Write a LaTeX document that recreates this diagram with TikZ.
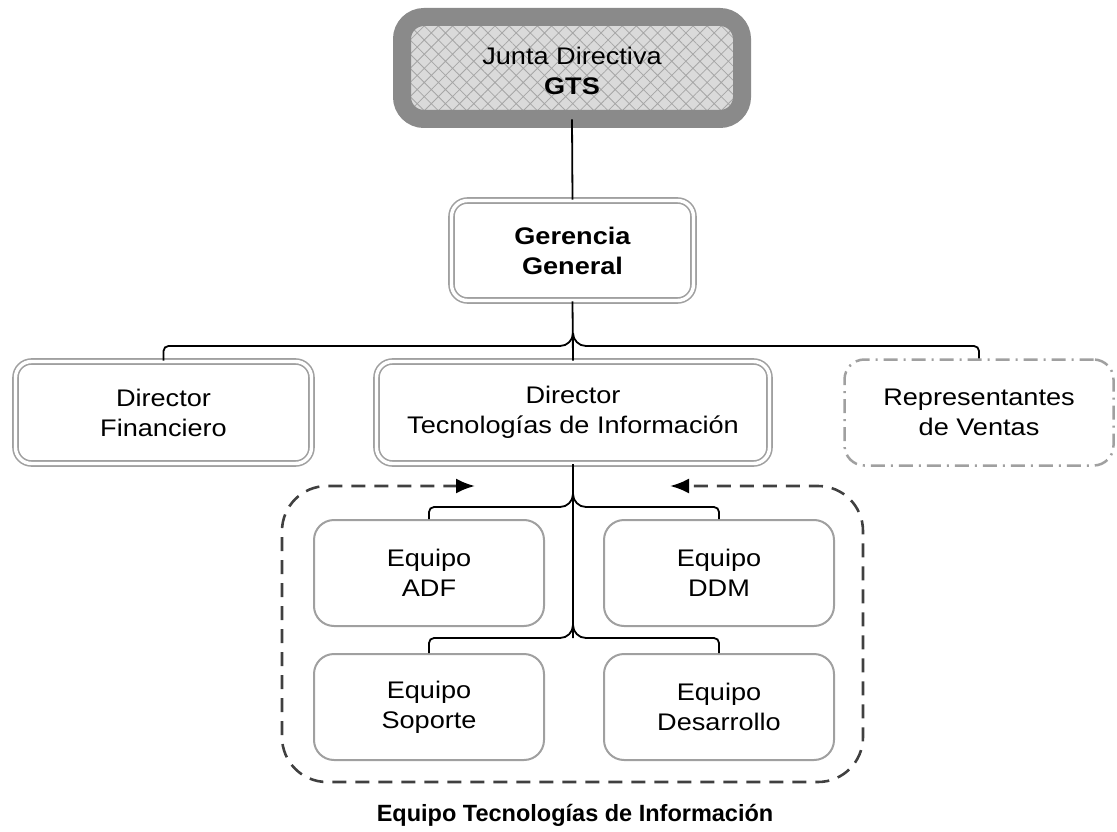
\documentclass[tikz,border=0pt]{standalone}
\usepackage{fontspec}
\setmainfont{Liberation Sans}[FakeStretch=1.13]
\newfontfamily\captionfont{Liberation Sans}
\usetikzlibrary{arrows.meta,patterns.meta,calc}

\definecolor{boardgray}{HTML}{8A8A8A}
\definecolor{hatchbg}{HTML}{DADADA}
\definecolor{hatchline}{HTML}{A6A6A6}
\definecolor{boxgray}{HTML}{A0A0A0}
\definecolor{contgray}{HTML}{404040}

\begin{document}
\begin{tikzpicture}[x=1pt,y=-1pt,
  >={Latex[length=19pt,width=15pt,color=black]},
  every node/.style={font=\fontsize{24}{30}\selectfont, align=center, inner sep=0pt},
  board/.style={rectangle, rounded corners=22pt, draw=boardgray, line width=18pt,
    preaction={fill=hatchbg},
    pattern={Hatch[angle=45,distance=10pt,line width=0.8pt]}, pattern color=hatchline,
    minimum width=340pt, minimum height=102pt},
  dbox/.style={rectangle, rounded corners=16pt, draw=boxgray, double=white,
    line width=1.6pt, double distance=3.4pt, minimum height=102pt},
  repbox/.style={rectangle, rounded corners=20pt, draw=boxgray, line width=2.5pt,
    dash pattern=on 14pt off 6pt on 2pt off 6pt,
    minimum width=269pt, minimum height=106pt},
  eqbox/.style={rectangle, rounded corners=20pt, draw=boxgray, line width=2pt,
    minimum width=230pt, minimum height=106pt},
  conn/.style={line width=1.8pt, black},
  teamframe/.style={line width=2.6pt, contgray, dash pattern=on 14pt off 9pt,
    rounded corners=45pt}
]
\useasboundingbox (0,0) rectangle (1117,832);

% board and management
\node[board] (jd) at (572,68) {};
\node (jdtext) at (572,71) {Junta Directiva\\\textbf{GTS}};
\node[dbox, minimum width=242pt, minimum height=100pt] (gg) at (572.5,250.5)
  {\textbf{Gerencia}\\\textbf{General}};

% directors
\node[dbox, minimum width=296pt] (df) at (163.5,412.5) {Director\\Financiero};
\node[dbox, minimum width=393pt] (dti) at (573,412.5) {Director\\Tecnologías de Información};
\node[repbox] (rv) at (979,412.5) {Representantes\\de Ventas};

% IT teams
\node[eqbox] (adf) at (429,573) {Equipo\\ADF};
\node[eqbox] (ddm) at (719,573) {Equipo\\DDM};
\node[eqbox] (sop) at (429,707) {Equipo\\Soporte};
\node[eqbox] (des) at (719,707) {Equipo\\Desarrollo};

% junction points
\coordinate (t1) at (573,333);
\coordinate (h1) at (0,346);
\coordinate (b1) at (573,493);
\coordinate (h2) at (0,507);
\coordinate (b2) at (573,625);
\coordinate (h3) at (0,638);

% top connectors
\draw[conn] (jd.south) -- (gg.north);
\draw[conn] (gg.south) -- (dti.north);
\draw[conn, rounded corners=13pt] ($(t1 |- h1)+(-16,0)$) -- (t1 |- h1) -- (t1) -- (t1 |- h1) -- ++(16,0);
\draw[conn, rounded corners=5pt] ($(t1 |- h1)+(-15,0)$) -- (df.north |- h1) -- (df.north);
\draw[conn, rounded corners=5pt] ($(t1 |- h1)+(15,0)$) -- (rv.north |- h1) -- (rv.north);

% team connectors
\draw[conn] (dti.south) -- (b2);
\draw[conn, rounded corners=13pt] ($(b1 |- h2)+(-16,0)$) -- (b1 |- h2) -- (b1) -- (b1 |- h2) -- ++(16,0);
\draw[conn, rounded corners=5pt] ($(b1 |- h2)+(-15,0)$) -- (adf.north |- h2) -- (adf.north);
\draw[conn, rounded corners=5pt] ($(b1 |- h2)+(15,0)$) -- (ddm.north |- h2) -- (ddm.north);
\draw[conn, rounded corners=13pt] ($(b2 |- h3)+(-16,0)$) -- (b2 |- h3) -- (b2) -- (b2 |- h3) -- ++(16,0);
\draw[conn, rounded corners=5pt] ($(b2 |- h3)+(-15,0)$) -- (sop.north |- h3) -- (sop.north);
\draw[conn, rounded corners=5pt] ($(b2 |- h3)+(15,0)$) -- (des.north |- h3) -- (des.north);

% team frame
\coordinate (a1) at (475,486);
\coordinate (a2) at (670,486);
\draw[teamframe, <->] (a1) -- (282,486) -- (282,782) -- (863,782) -- (863,486) -- (a2);

\node[font=\captionfont\bfseries\fontsize{23.5}{28}\selectfont] (cap) at (575,815)
  {Equipo Tecnologías de Información};
\end{tikzpicture}
\end{document}
